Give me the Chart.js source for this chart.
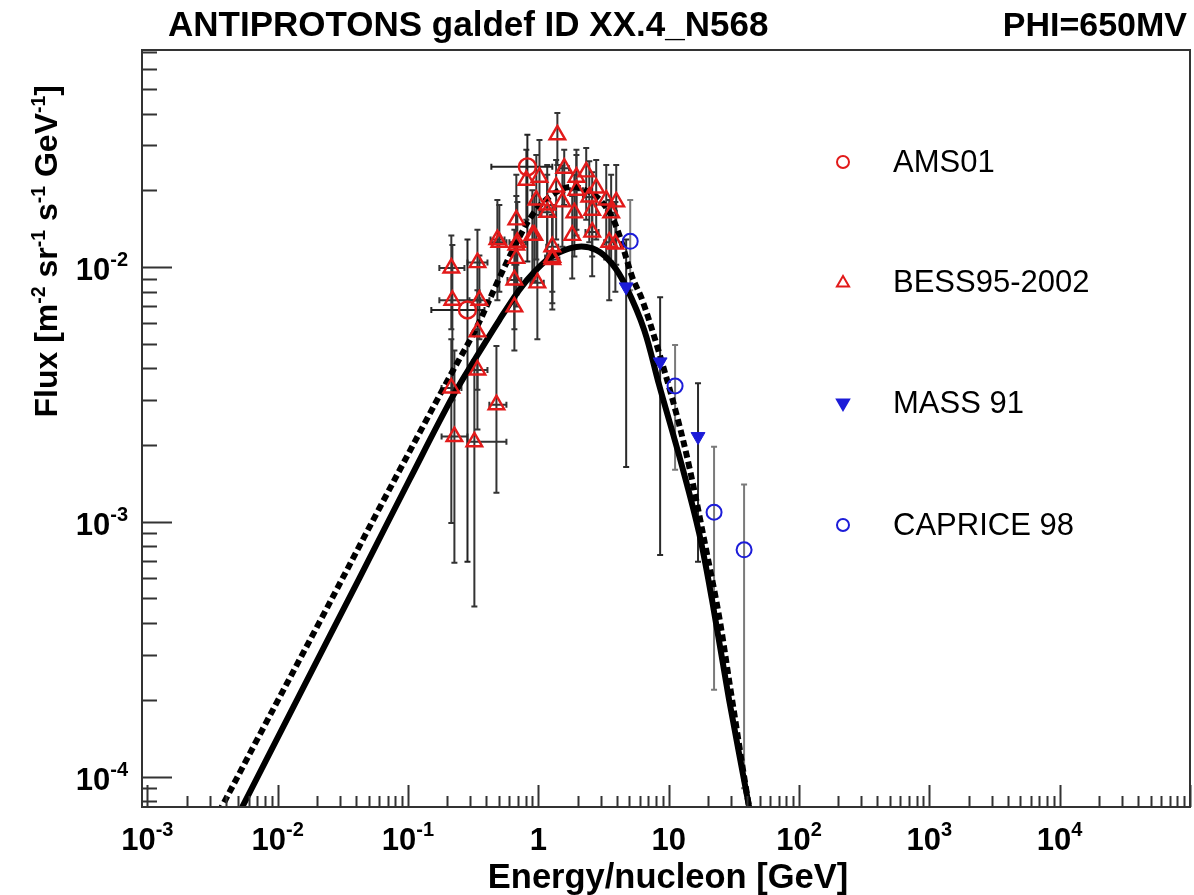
<!DOCTYPE html>
<html>
<head>
<meta charset="utf-8">
<script src="https://cdn.jsdelivr.net/npm/chart.js@4.4.1/dist/chart.umd.min.js"></script>
<style>
  html, body { margin: 0; padding: 0; background: #fff; }
</style>
</head>
<body>
<canvas id="chart" width="1194" height="895"></canvas>
<script>
// model curves
const solidE = [0.00428, 0.01475, 0.0425, 0.1027, 0.2193, 0.335, 0.502, 0.714, 0.931, 1.28, 1.955, 2.78, 3.69, 4.72, 6.49, 8.45, 12.7, 17.1, 21.5, 29.1, 41.4, 46.0];
const solidF = [6.08e-5, 2.10e-4, 6.03e-4, 1.462e-3, 3.09e-3, 4.44e-3, 6.19e-3, 8.12e-3, 9.56e-3, 1.104e-2, 1.198e-2, 1.166e-2, 1.027e-2, 8.35e-3, 5.66e-3, 3.44e-3, 1.643e-3, 9.06e-4, 4.94e-4, 2.00e-4, 7.62e-5, 5.66e-5];

const dashE = [0.00296, 0.00728, 0.0210, 0.0606, 0.208, 0.335, 0.502, 0.678, 0.900, 1.21, 1.73, 2.46, 3.21, 3.96, 5.25, 6.27, 8.45, 11.4, 14.4, 19.4, 24.4, 30.1, 41.4, 46.0];
const dashF = [6.08e-5, 1.46e-4, 4.05e-4, 1.135e-3, 3.70e-3, 5.77e-3, 9.05e-3, 1.241e-2, 1.60e-2, 1.88e-2, 2.06e-2, 1.97e-2, 1.75e-2, 1.44e-2, 9.14e-3, 7.42e-3, 4.60e-3, 2.68e-3, 1.64e-3, 7.76e-4, 4.24e-4, 2.13e-4, 7.62e-5, 5.93e-5];

// AMS01
const amsE = [0.824, 0.286];
const amsF = [0.0247, 0.00678];
const amsLo = [0.0105, 0.000697];
const amsHi = [0.0330, 0.0128];
const amsEMin = [0.436, 0.151];
const amsEMax = [1.28, 0.386];

// BESS95-2002
const bessE = [0.215, 0.219, 0.215, 0.227, 0.323, 0.341, 0.353, 0.341, 0.341, 0.477, 0.485, 0.678, 0.655, 0.655, 0.983, 1.28, 0.900, 1.40, 0.809, 1.02, 1.58, 1.96, 2.33, 1.37, 1.96, 2.78, 0.965, 1.17, 1.53, 2.46, 3.32, 3.96, 1.17, 1.89, 2.59, 3.62, 0.678, 0.931, 0.690, 1.28, 1.82, 2.59, 3.50, 0.678, 1.28, 0.502, 3.90];
const bessF = [0.0099, 0.0074, 0.00335, 0.00216, 0.00206, 0.0104, 0.0074, 0.00556, 0.00394, 0.00288, 0.0128, 0.0122, 0.00889, 0.00697, 0.00866, 0.0107, 0.0133, 0.0330, 0.0219, 0.0225, 0.0244, 0.0225, 0.0236, 0.0206, 0.0200, 0.0204, 0.0183, 0.0175, 0.0180, 0.0188, 0.0183, 0.0180, 0.0164, 0.0163, 0.0167, 0.0163, 0.0153, 0.0133, 0.0125, 0.0120, 0.0133, 0.0137, 0.0125, 0.0108, 0.0109, 0.0125, 0.0123];
const bessLo = [0.0057, 0.0030, 0.00099, 0.00069, 0.000465, 0.0074, 0.0052, 0.0033, 0.0023, 0.0013, 0.0074, 0.0078, 0.0057, 0.0047, 0.0052, 0.0068, 0.0089, 0.0251, 0.0153, 0.0160, 0.0175, 0.0140, 0.0153, 0.0128, 0.0133, 0.0128, 0.0107, 0.0111, 0.0120, 0.0125, 0.0107, 0.0102, 0.0110, 0.0110, 0.0110, 0.0105, 0.0102, 0.0088, 0.0085, 0.0080, 0.0090, 0.0092, 0.0074, 0.0070, 0.0072, 0.0080, 0.0080];
const bessHi = [0.0133, 0.0122, 0.0052, 0.0047, 0.0043, 0.0140, 0.0111, 0.0081, 0.0057, 0.0049, 0.0183, 0.0190, 0.0140, 0.0102, 0.0128, 0.0160, 0.0200, 0.0402, 0.0288, 0.0315, 0.0288, 0.0288, 0.0293, 0.0263, 0.0275, 0.0263, 0.0275, 0.0251, 0.0250, 0.0260, 0.0251, 0.0251, 0.0230, 0.0230, 0.0235, 0.0230, 0.0230, 0.0190, 0.0180, 0.0175, 0.0190, 0.0195, 0.0183, 0.0160, 0.0160, 0.0175, 0.0180];
const bessEMin = [0.174, 0.174, 0.181, 0.181, 0.286, 0.286, 0.296, null, 0.296, 0.421, 0.43, null, 0.58, null, 0.87, 1.13, null, null, null, null, 1.45, null, null, null, 1.75, null, null, null, null, 2.2, null, null, 1.05, null, null, 3.3, null, null, 0.6, 1.15, null, 2.3, 3.2, null, null, 0.436, null];
const bessEMax = [0.271, 0.36, 0.257, 0.286, 0.569, 0.407, 0.421, null, 0.407, 0.569, 0.55, null, 0.74, null, 1.1, 1.45, null, null, null, null, 1.72, null, null, null, 2.2, null, null, null, null, 2.75, null, null, 1.3, null, null, 4.0, null, null, 0.8, 1.42, null, 2.9, 3.8, null, null, 0.569, null];

// MASS 91
const massE = [4.72, 8.6, 16.8];
const massF = [8.35e-3, 4.24e-3, 2.16e-3];
const massLo = [1.64e-3, 7.4e-4, 6.97e-4];
const massHi = [1.28e-2, 7.6e-3, 3.5e-3];

// CAPRICE 98
const capE = [5.07, 11.2, 22.3, 37.9];
const capF = [1.26e-2, 3.41e-3, 1.09e-3, 7.76e-4];
const capLo = [8.1e-3, 1.6e-3, 2.19e-4, 9e-5];
const capHi = [1.83e-2, 4.94e-3, 1.97e-3, 1.40e-3];

// axis ticks
const xTickValues = [1e-3, 1e-2, 1e-1, 1, 10, 1e2, 1e3, 1e4];
const xTickLabels = [['10', '-3'], ['10', '-2'], ['10', '-1'], ['1', ''], ['10', ''], ['10', '2'], ['10', '3'], ['10', '4']];
const yTickValues = [1e-4, 1e-3, 1e-2];
const yTickLabels = [['10', '-4'], ['10', '-3'], ['10', '-2']];

const legendLabels = ['AMS01', 'BESS95-2002', 'MASS 91', 'CAPRICE 98'];

const FONT = '"Liberation Sans", Arial, Helvetica, sans-serif';
const RED = '#e21a1a';
const BLUE = '#1c1cd8';

const pts = (xs, ys) => xs.map((x, i) => ({ x: x, y: ys[i] }));

function drawMarker(ctx, style, x, y, r, color, filled, rot) {
  ctx.save();
  ctx.strokeStyle = color;
  ctx.fillStyle = color;
  ctx.lineWidth = 2;
  ctx.beginPath();
  if (style === 'circle') {
    ctx.arc(x, y, r, 0, Math.PI * 2);
  } else {
    let a = (rot || 0) * Math.PI / 180;
    for (let k = 0; k < 3; k++) {
      const px = x + Math.sin(a) * r, py = y - Math.cos(a) * r;
      k === 0 ? ctx.moveTo(px, py) : ctx.lineTo(px, py);
      a += Math.PI * 2 / 3;
    }
    ctx.closePath();
  }
  if (filled) ctx.fill();
  ctx.stroke();
  ctx.restore();
}

// base text + superscript pieces, parts = [[text, isSup], ...]
function drawParts(ctx, parts, x, y, size, supSize, rise, align) {
  const fontFor = sup => 'bold ' + (sup ? supSize : size) + 'px ' + FONT;
  let total = 0;
  const widths = parts.map(p => {
    ctx.font = fontFor(p[1]);
    const w = ctx.measureText(p[0]).width;
    total += w;
    return w;
  });
  let cx = align === 'center' ? x - total / 2 : align === 'right' ? x - total : x;
  ctx.textAlign = 'left';
  ctx.textBaseline = 'alphabetic';
  parts.forEach((p, i) => {
    ctx.font = fontFor(p[1]);
    ctx.fillText(p[0], cx, p[1] ? y - rise : y);
    cx += widths[i];
  });
}

function drawErrors(chart, E, F, lo, hi, eMin, eMax, color) {
  const { ctx, chartArea: a } = chart;
  const xs = chart.scales.x, ys = chart.scales.y;
  ctx.save();
  ctx.beginPath();
  ctx.rect(a.left, a.top, a.right - a.left, a.bottom - a.top);
  ctx.clip();
  ctx.strokeStyle = color;
  ctx.lineWidth = 2;
  E.forEach((e, i) => {
    const px = xs.getPixelForValue(e), py = ys.getPixelForValue(F[i]);
    ctx.beginPath();
    if (lo && lo[i] != null) {
      const y1 = ys.getPixelForValue(lo[i]), y2 = ys.getPixelForValue(hi[i]);
      ctx.moveTo(px, y1); ctx.lineTo(px, y2);
      ctx.moveTo(px - 3, y1); ctx.lineTo(px + 3, y1);
      ctx.moveTo(px - 3, y2); ctx.lineTo(px + 3, y2);
    }
    if (eMin && eMin[i] != null) {
      const x1 = xs.getPixelForValue(eMin[i]), x2 = xs.getPixelForValue(eMax[i]);
      ctx.moveTo(x1, py); ctx.lineTo(x2, py);
      ctx.moveTo(x1, py - 3); ctx.lineTo(x1, py + 3);
      ctx.moveTo(x2, py - 3); ctx.lineTo(x2, py + 3);
    }
    ctx.stroke();
  });
  ctx.restore();
}

const rootStyle = {
  id: 'rootStyle',
  beforeDatasetsDraw(chart) {
    drawErrors(chart, capE, capF, capLo, capHi, null, null, '#7a7a7a');
    drawErrors(chart, massE, massF, massLo, massHi, null, null, '#2a2a2a');
    drawErrors(chart, bessE, bessF, bessLo, bessHi, bessEMin, bessEMax, '#333');
    drawErrors(chart, amsE, amsF, amsLo, amsHi, amsEMin, amsEMax, '#222');
  },
  afterDraw(chart) {
    const { ctx, chartArea: a } = chart;
    const xs = chart.scales.x, ys = chart.scales.y;
    ctx.save();
    ctx.fillStyle = '#000';

    // frame
    ctx.strokeStyle = '#333';
    ctx.lineWidth = 2;
    ctx.strokeRect(a.left, a.top, a.right - a.left, a.bottom - a.top);

    // x ticks (inside, from the bottom)
    ctx.beginPath();
    for (let d = -4; d <= 5; d++) {
      for (let m = 1; m <= 9; m++) {
        const v = m * Math.pow(10, d);
        if (v < xs.min || v > xs.max) continue;
        const px = Math.round(xs.getPixelForValue(v)) + 0.5;
        const len = m === 1 ? 22 : 11;
        ctx.moveTo(px, a.bottom);
        ctx.lineTo(px, a.bottom - len);
      }
    }
    // y ticks (inside, from the left)
    for (let d = -5; d <= 0; d++) {
      for (let m = 1; m <= 9; m++) {
        const v = m * Math.pow(10, d);
        if (v < ys.min || v > ys.max) continue;
        const py = Math.round(ys.getPixelForValue(v)) + 0.5;
        const len = m === 1 ? 30 : 15;
        ctx.moveTo(a.left, py);
        ctx.lineTo(a.left + len, py);
      }
    }
    ctx.stroke();

    // tick labels
    ctx.fillStyle = '#000';
    xTickValues.forEach((v, i) => {
      const lab = xTickLabels[i];
      const parts = [[lab[0], false]];
      if (lab[1]) parts.push([lab[1], true]);
      drawParts(ctx, parts, xs.getPixelForValue(v), 850, 31, 20, 14, 'center');
    });
    yTickValues.forEach((v, i) => {
      const lab = yTickLabels[i];
      drawParts(ctx, [[lab[0], false], [lab[1], true]], 128, ys.getPixelForValue(v) + 13, 31, 20, 14, 'right');
    });

    // titles
    ctx.font = 'bold 35px ' + FONT;
    ctx.textBaseline = 'alphabetic';
    ctx.textAlign = 'left';
    ctx.fillText('ANTIPROTONS galdef ID XX.4_N568', 168, 36);
    ctx.font = 'bold 34px ' + FONT;
    ctx.textAlign = 'right';
    ctx.fillText('PHI=650MV', 1187, 36);

    ctx.font = 'bold 34.5px ' + FONT;
    ctx.textAlign = 'center';
    ctx.fillText('Energy/nucleon [GeV]', 668, 888);

    ctx.save();
    ctx.translate(57, 85);
    ctx.rotate(-Math.PI / 2);
    drawParts(ctx, [['Flux [m', false], ['-2', true], [' sr', false], ['-1', true], [' s', false], ['-1', true], [' GeV', false], ['-1', true], [']', false]], 0, 0, 32, 19.5, 12, 'right');
    ctx.restore();

    // legend
    const rows = [162, 282, 403, 525];
    drawMarker(ctx, 'circle', 843, rows[0], 6, RED, false, 0);
    drawMarker(ctx, 'triangle', 843, rows[1] + 1, 7, RED, false, 0);
    drawMarker(ctx, 'triangle', 843, rows[2], 7, BLUE, true, 180);
    drawMarker(ctx, 'circle', 843, rows[3], 6, BLUE, false, 0);
    ctx.font = '31px ' + FONT;
    ctx.textAlign = 'left';
    ctx.textBaseline = 'middle';
    ctx.fillStyle = '#000';
    legendLabels.forEach((t, i) => ctx.fillText(t, 893, rows[i] + 1));
    ctx.restore();
  }
};

new Chart(document.getElementById('chart'), {
  type: 'scatter',
  data: {
    datasets: [
      { label: 'model', data: pts(solidE, solidF), showLine: true, borderColor: '#000', borderWidth: 6,
        pointRadius: 0, tension: 0.35, order: 2, clip: 0 },
      { label: 'model (dashed)', data: pts(dashE, dashF), showLine: true, borderColor: '#000', borderWidth: 6,
        borderDash: [7, 4], pointRadius: 0, tension: 0.35, order: 2, clip: 0 },
      { label: 'BESS95-2002', data: pts(bessE, bessF), pointStyle: 'triangle', pointRadius: 9,
        pointBorderColor: RED, pointBackgroundColor: 'rgba(255,255,255,0)', pointBorderWidth: 2.4, order: 0 },
      { label: 'AMS01', data: pts(amsE, amsF), pointStyle: 'circle', pointRadius: 8.5,
        pointBorderColor: RED, pointBackgroundColor: 'rgba(255,255,255,0)', pointBorderWidth: 2.4, order: 0 },
      { label: 'MASS 91', data: pts(massE, massF), pointStyle: 'triangle', pointRotation: 180, pointRadius: 8,
        pointBorderColor: BLUE, pointBackgroundColor: BLUE, pointBorderWidth: 1, order: 0 },
      { label: 'CAPRICE 98', data: pts(capE, capF), pointStyle: 'circle', pointRadius: 7.5,
        pointBorderColor: BLUE, pointBackgroundColor: 'rgba(255,255,255,0)', pointBorderWidth: 2, order: 0 }
    ]
  },
  options: {
    responsive: false,
    animation: false,
    layout: { autoPadding: false, padding: { top: 50, right: 4, left: 0, bottom: 0 } },
    plugins: { legend: { display: false }, tooltip: { enabled: false }, title: { display: false } },
    scales: {
      x: {
        type: 'logarithmic', min: 0.00091, max: 1e5,
        ticks: { display: false }, grid: { display: false }, border: { display: false },
        afterFit(s) { s.height = 88; }
      },
      y: {
        type: 'logarithmic', min: 7.6e-5, max: 0.071,
        ticks: { display: false }, grid: { display: false }, border: { display: false },
        afterFit(s) { s.width = 142; }
      }
    }
  },
  plugins: [rootStyle]
});
</script>
</body>
</html>
